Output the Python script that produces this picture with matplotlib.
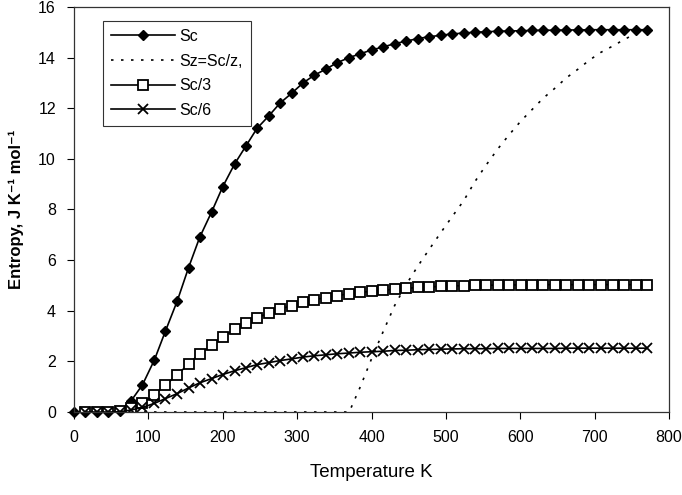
import matplotlib
matplotlib.use("Agg")
import matplotlib.pyplot as plt

plt.rcParams['font.family'] = ['Liberation Sans', 'DejaVu Sans']

# temperature grid (K)
temps = [0, 15, 31, 46, 62, 77, 92, 108, 123, 139, 154, 169, 185, 200, 216,
         231, 246, 262, 277, 293, 308, 323, 339, 354, 370, 385, 400, 416, 431,
         447, 462, 477, 493, 508, 524, 539, 554, 570, 585, 601, 616, 631, 647,
         662, 678, 693, 708, 724, 739, 755, 770]

sc = [0, 0, 0, 0, 0.05, 0.45, 1.07, 2.05, 3.2, 4.4, 5.7, 6.9, 7.9, 8.9, 9.8,
      10.5, 11.2, 11.7, 12.2, 12.6, 13.0, 13.3, 13.55, 13.8, 14.0, 14.15, 14.3,
      14.42, 14.55, 14.65, 14.75, 14.82, 14.88, 14.93, 14.97, 15.0, 15.02,
      15.04, 15.05, 15.06, 15.07, 15.08, 15.08, 15.09, 15.09, 15.1, 15.1,
      15.1, 15.1, 15.1, 15.1]

sz = [0] * 25 + [1.0, 2.1, 3.2, 4.2, 5.05, 5.75, 6.4, 7.08, 7.7, 8.35, 9.1,
                 9.75, 10.4, 10.95, 11.5, 11.95, 12.4, 12.8, 13.2, 13.55, 13.9,
                 14.2, 14.45, 14.7, 14.95, 15.1]

# Sc/3 and Sc/6 start at the second temperature
sc3 = [0, 0, 0, 0.02, 0.15, 0.36, 0.68, 1.07, 1.47, 1.9, 2.3, 2.63, 2.97,
       3.27, 3.5, 3.73, 3.9, 4.07, 4.2, 4.33, 4.43, 4.52, 4.6, 4.67, 4.72,
       4.77, 4.81, 4.85, 4.88, 4.92, 4.94, 4.96, 4.98, 4.99, 5.0, 5.01, 5.01,
       5.02, 5.02, 5.02, 5.03, 5.03, 5.03, 5.03, 5.03, 5.03, 5.03, 5.03, 5.03,
       5.03]

sc6 = [0, 0, 0, 0.01, 0.08, 0.18, 0.34, 0.53, 0.73, 0.95, 1.15, 1.32, 1.48,
       1.63, 1.75, 1.87, 1.95, 2.03, 2.1, 2.17, 2.22, 2.26, 2.3, 2.33, 2.36,
       2.38, 2.4, 2.43, 2.44, 2.46, 2.47, 2.48, 2.49, 2.5, 2.5, 2.5, 2.51,
       2.51, 2.51, 2.51, 2.51, 2.51, 2.52, 2.52, 2.52, 2.52, 2.52, 2.52, 2.52,
       2.52]

fig = plt.figure(figsize=(6.82, 4.95), dpi=100)
ax = fig.add_axes([0.1085, 0.1677, 0.8725, 0.8183])

ax.plot(temps, sc, color='black', lw=1.2, marker='D', ms=5.5,
        mfc='black', mec='black', label='Sc', clip_on=False)
ax.plot(temps, sz, color='black', lw=1.2, ls=(0, (1.5, 4.5)), label='Sz=Sc/z,')
ax.plot(temps[1:], sc3, color='black', lw=1.2, marker='s', ms=6.5,
        mfc='white', mec='black', mew=1.3, label='Sc/3')
ax.plot(temps[1:], sc6, color='black', lw=1.2, marker='x', ms=6.5,
        mew=1.3, label='Sc/6')

ax.set_xlim(0, 800)
ax.set_ylim(0, 16)
ax.set_xticks(range(0, 801, 100))
ax.set_yticks(range(0, 17, 2))
ax.tick_params(direction='out', length=5, width=0.8, labelsize=11.5, pad=8)
for s in ax.spines.values():
    s.set_linewidth(0.9)
    s.set_color('#333333')

ax.set_xlabel('Temperature K', fontsize=13.5, labelpad=14)
ax.set_ylabel('Entropy, J K\u207b\u00b9 mol\u207b\u00b9', fontsize=12,
              fontweight='bold', labelpad=10)

leg = ax.legend(loc='upper left', bbox_to_anchor=(0.035, 0.985), fontsize=11.5,
                frameon=True, fancybox=False, edgecolor='black',
                handlelength=4, borderpad=0.5, labelspacing=0.6,
                handletextpad=0.3)
leg.get_frame().set_linewidth(0.8)

fig.savefig('out.png', dpi=100)
